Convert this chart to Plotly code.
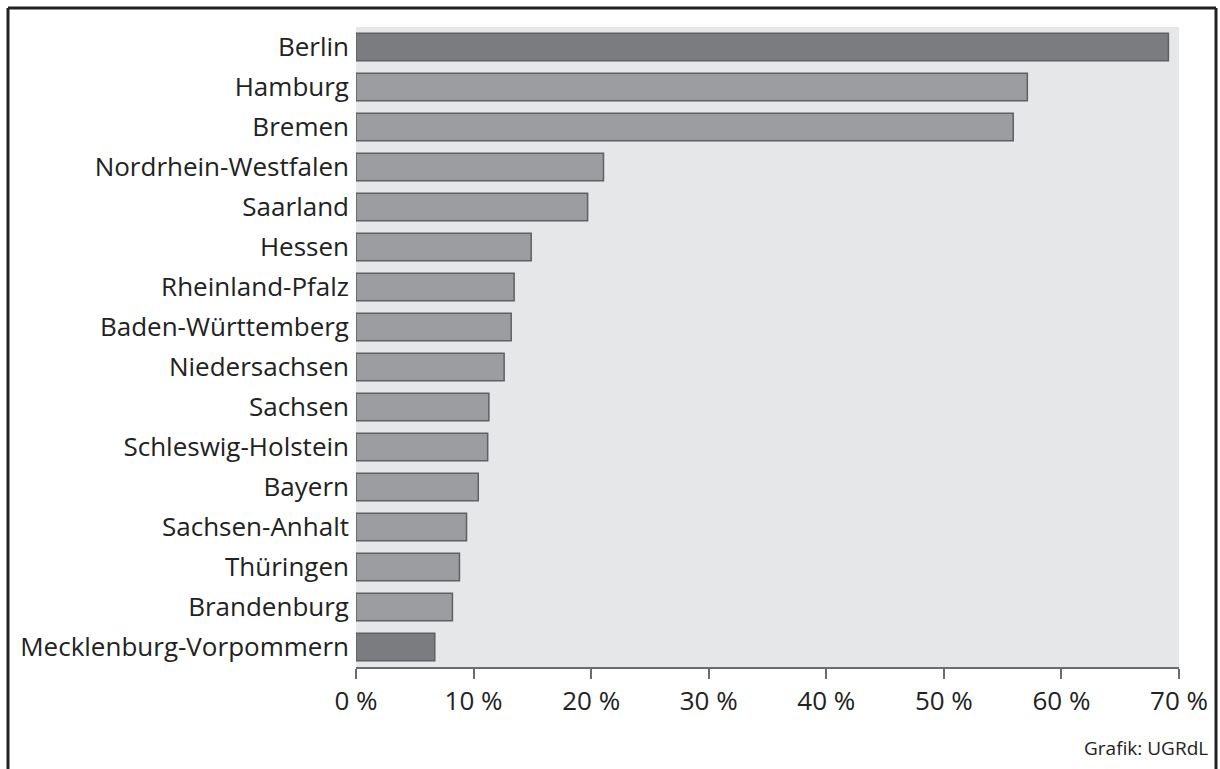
import plotly.graph_objects as go

states = ["Berlin", "Hamburg", "Bremen", "Nordrhein-Westfalen", "Saarland", "Hessen",
          "Rheinland-Pfalz", "Baden-Württemberg", "Niedersachsen", "Sachsen",
          "Schleswig-Holstein", "Bayern", "Sachsen-Anhalt", "Thüringen",
          "Brandenburg", "Mecklenburg-Vorpommern"]
values = [69.1, 57.1, 55.9, 21.05, 19.7, 14.9, 13.45, 13.2, 12.6, 11.3, 11.2, 10.4,
          9.4, 8.8, 8.2, 6.7]
highlight = ["Berlin", "Mecklenburg-Vorpommern"]
tick_vals = [0, 10, 20, 30, 40, 50, 60, 70]
tick_text = ["0 %", "10 %", "20 %", "30 %", "40 %", "50 %", "60 %", "70 %"]
credit = "Grafik: UGRdL"

W, H = 1220, 769
L, R, T, B = 356, 41, 27, 102
pw, ph = W - L - R, H - T - B

colors = ["#7b7c80" if s in highlight else "#9c9da1" for s in states]

fig = go.Figure(go.Bar(
    x=values, y=states, orientation="h",
    marker=dict(color=colors, line=dict(color="#5f6064", width=1.5)),
    width=0.69,
))

FONT = "Open Sans"
fig.update_layout(
    width=W, height=H,
    margin=dict(l=L, r=R, t=T, b=B, autoexpand=False),
    paper_bgcolor="white", plot_bgcolor="#e6e7e9",
    showlegend=False,
    font=dict(family=FONT, color="#222222", size=26),
)
fig.update_xaxes(range=[0, 70], tickvals=tick_vals, ticktext=tick_text,
                 showgrid=False, zeroline=False, showline=True,
                 linecolor="#6b6c70", linewidth=1.5,
                 ticks="outside", ticklen=10, tickwidth=1.5, tickcolor="#6b6c70",
                 tickfont=dict(size=26, family=FONT, color="#222222"))
fig.update_yaxes(categoryorder="array", categoryarray=states, autorange="reversed",
                 showgrid=False, zeroline=False, showline=False, ticks="",
                 ticklabelstandoff=6,
                 tickfont=dict(size=26, family=FONT, color="#222222"))

def px_x(p):
    return (p - L) / pw

def px_y(p):
    return 1 - (p - T) / ph

frame = dict(type="line", xref="paper", yref="paper", line=dict(color="#222222", width=3))
fig.add_shape(**frame, x0=px_x(8), x1=px_x(1216), y0=px_y(8), y1=px_y(8))
fig.add_shape(**frame, x0=px_x(8), x1=px_x(8), y0=px_y(8), y1=px_y(780))
fig.add_shape(**frame, x0=px_x(1216), x1=px_x(1216), y0=px_y(8), y1=px_y(780))

fig.add_annotation(text=credit, xref="paper", yref="paper",
                   x=px_x(1210), y=px_y(748), xanchor="right", yanchor="middle",
                   showarrow=False, font=dict(size=19, family=FONT, color="#222222"))

fig.write_html("out.html", config={"displayModeBar": False},
               post_script="document.body.style.margin='0';")
